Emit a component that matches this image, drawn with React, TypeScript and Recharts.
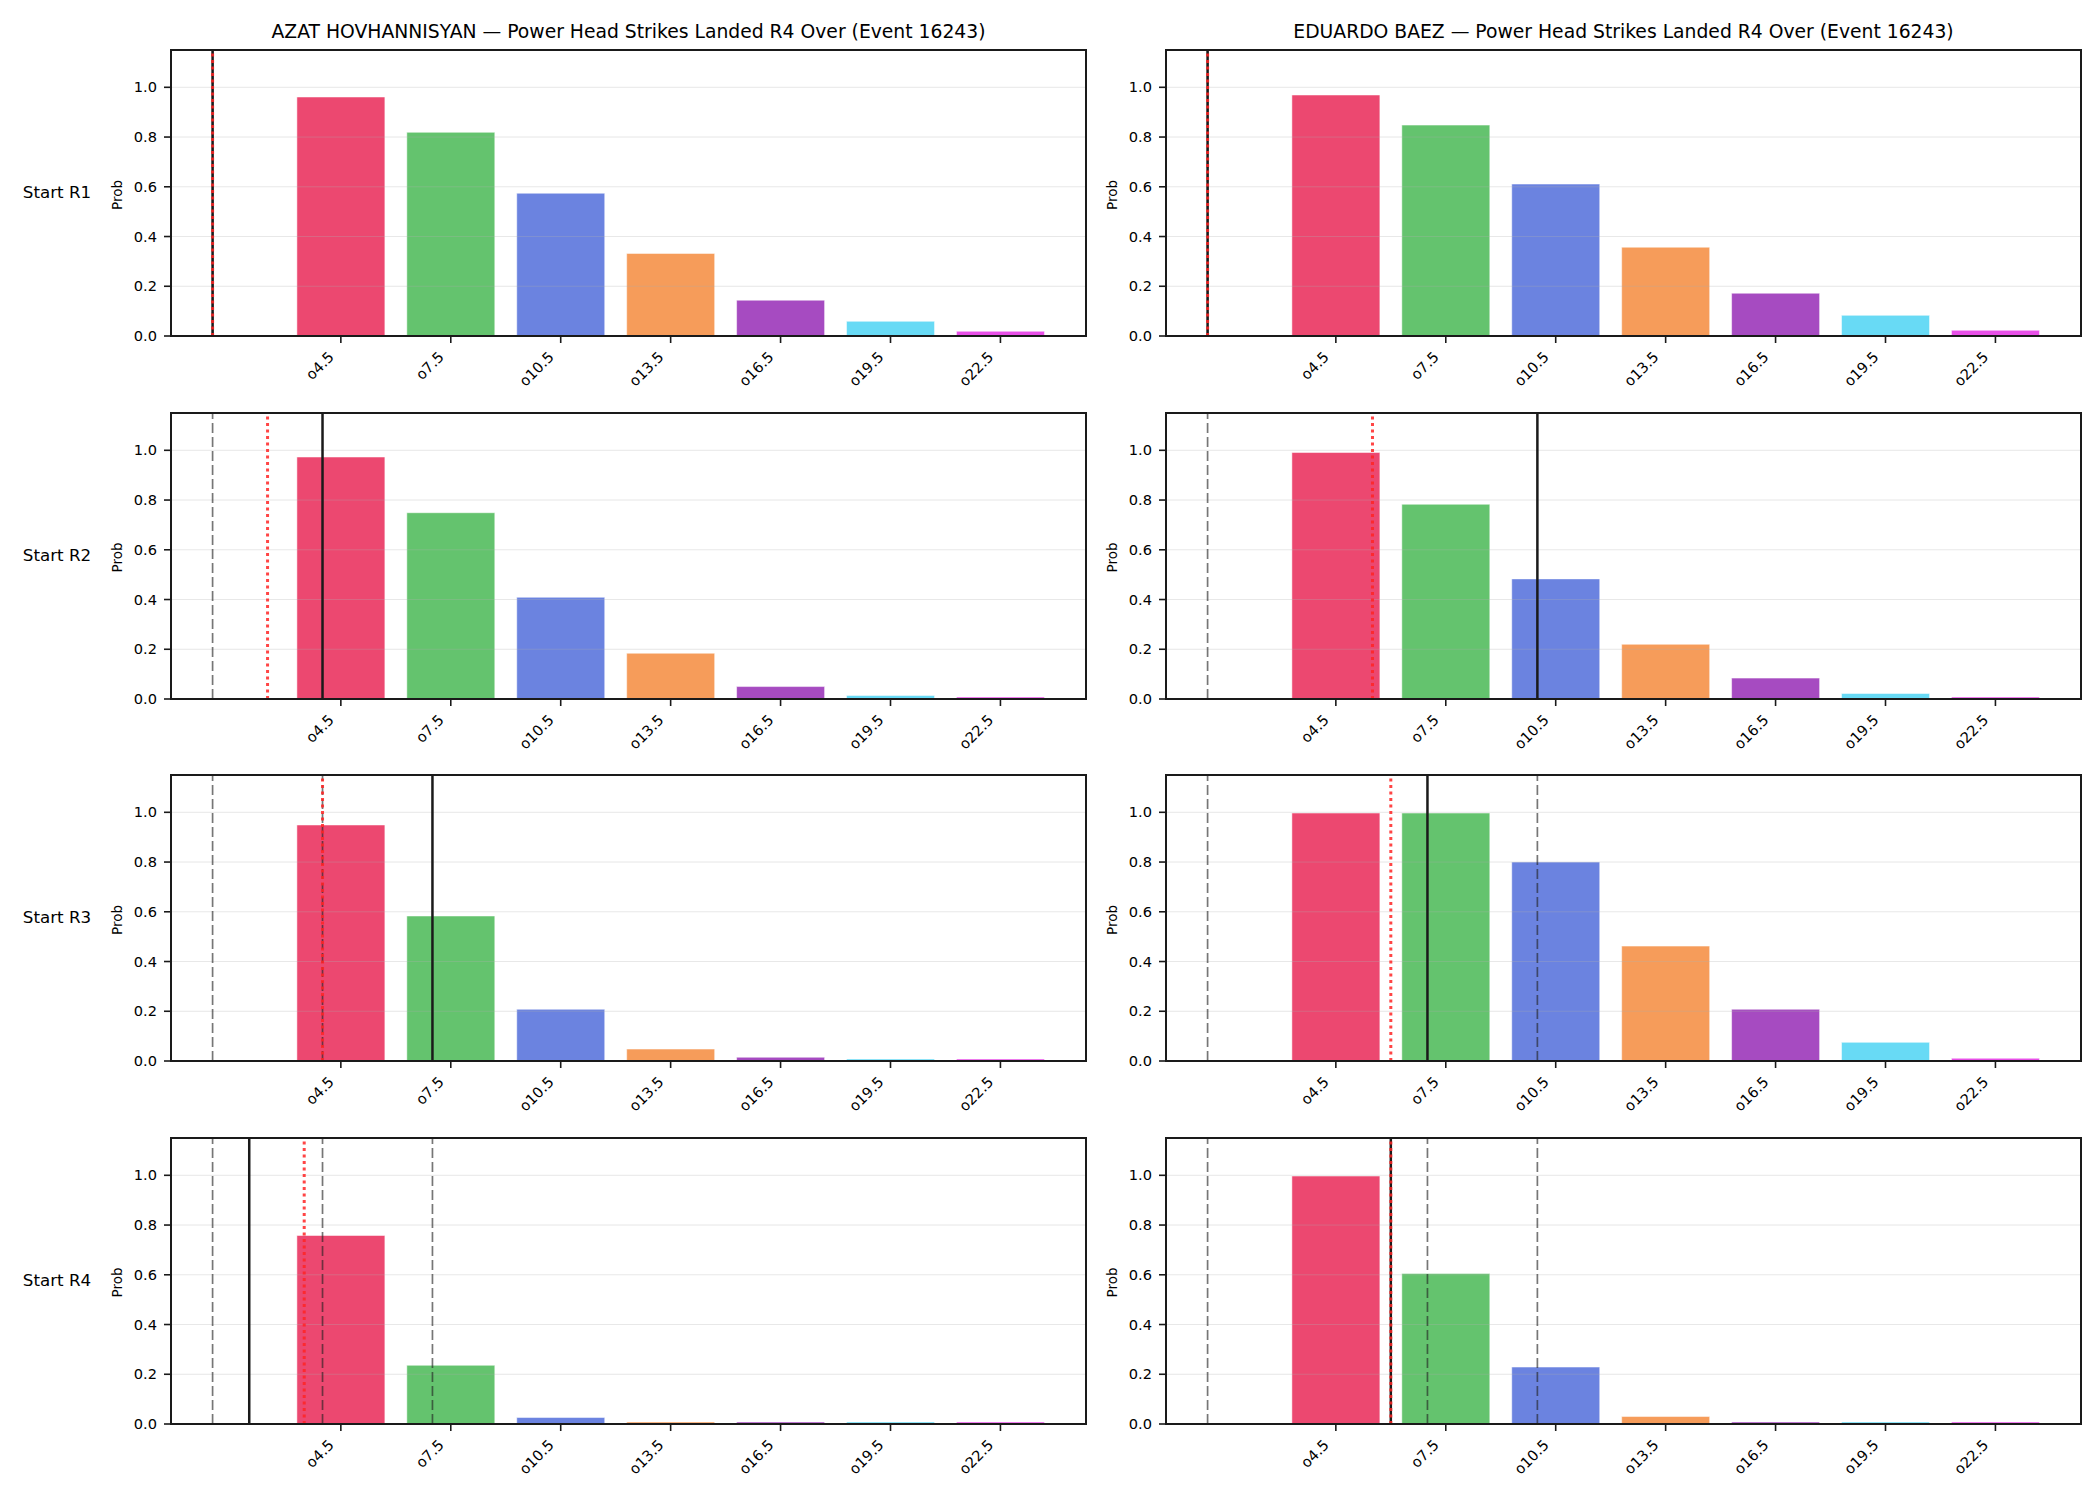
import { BarChart, Bar, Cell, XAxis, YAxis, CartesianGrid, ReferenceLine, ReferenceArea } from 'recharts';

// Over lines (bar positions on the numeric x axis) and their labels
const CAT_X = [4.5, 7.5, 10.5, 13.5, 16.5, 19.5, 22.5];
const CAT_LABELS = ['o4.5', 'o7.5', 'o10.5', 'o13.5', 'o16.5', 'o19.5', 'o22.5'];
const BAR_COLORS = ['#EC4870', '#64C36E', '#6B83E0', '#F69C5A', '#A64BC1', '#68DAF5', '#E850E8'];
const Y_TICKS = [0, 0.2, 0.4, 0.6, 0.8, 1.0];
const ROW_LABELS = ['Start R1', 'Start R2', 'Start R3', 'Start R4'];

// AZAT HOVHANNISYAN
const AZAT_R1 = [0.961, 0.819, 0.574, 0.332, 0.144, 0.059, 0.019];
const AZAT_R2 = [0.973, 0.749, 0.409, 0.184, 0.050, 0.014, 0.007];
const AZAT_R3 = [0.949, 0.583, 0.208, 0.048, 0.015, 0.007, 0.007];
const AZAT_R4 = [0.758, 0.236, 0.026, 0.005, 0.005, 0.004, 0.004];
const AZAT_DASHED = [[1], [1], [1, 4], [1, 4, 7]];
const AZAT_SOLID = [1, 4, 7, 2];
const AZAT_DOTTED = [1, 2.5, 4, 3.5];

// EDUARDO BAEZ
const BAEZ_R1 = [0.969, 0.848, 0.611, 0.357, 0.172, 0.083, 0.023];
const BAEZ_R2 = [0.991, 0.783, 0.483, 0.220, 0.084, 0.022, 0.007];
const BAEZ_R3 = [0.997, 0.997, 0.800, 0.462, 0.208, 0.075, 0.011];
const BAEZ_R4 = [0.997, 0.605, 0.229, 0.030, 0.006, 0.004, 0.004];
const BAEZ_DASHED = [[1], [1], [1, 10], [1, 7, 10]];
const BAEZ_SOLID = [1, 10, 7, 6];
const BAEZ_DOTTED = [1, 5.5, 6, 6];

const FIGHTERS = [
  {
    title: 'AZAT HOVHANNISYAN — Power Head Strikes Landed R4 Over (Event 16243)',
    rounds: [AZAT_R1, AZAT_R2, AZAT_R3, AZAT_R4],
    dashed: AZAT_DASHED, solid: AZAT_SOLID, dotted: AZAT_DOTTED,
  },
  {
    title: 'EDUARDO BAEZ — Power Head Strikes Landed R4 Over (Event 16243)',
    rounds: [BAEZ_R1, BAEZ_R2, BAEZ_R3, BAEZ_R4],
    dashed: BAEZ_DASHED, solid: BAEZ_SOLID, dotted: BAEZ_DOTTED,
  },
];

// layout (px)
const COL_LEFT = [171, 1166];
const ROW_TOP = [50, 412.5, 775, 1137.5];
const PLOT_W = 915;
const PLOT_H = 286;
const Y_AXIS_W = 70;
const X_AXIS_H = 70;
const PAD = 5;
const X_DOMAIN = [-0.135, 24.835];
const Y_MAX = 1.15;
const FONT = '"DejaVu Sans", sans-serif';
const INK = '#1a1a1a';

const XTick = (props: any) => {
  const { x, y, payload } = props;
  const i = CAT_X.indexOf(payload.value);
  const bx = x - 6;
  const by = y + 13;
  return (
    <text x={bx} y={by} transform={`rotate(-45, ${bx}, ${by})`} textAnchor="end"
      fontFamily={FONT} fontSize={14.6} fill="#000">
      {CAT_LABELS[i]}
    </text>
  );
};

function Panel({ probs, dashed, solid, dotted }: any) {
  const data = CAT_X.map((x, i) => ({ x, p: probs[i] }));
  return (
    <BarChart width={PLOT_W + Y_AXIS_W + PAD} height={PLOT_H + PAD + X_AXIS_H} data={data}
      margin={{ top: PAD, right: PAD, left: 0, bottom: 0 }}>
      <XAxis dataKey="x" type="number" domain={X_DOMAIN} allowDataOverflow ticks={CAT_X}
        interval={0} height={X_AXIS_H} tick={<XTick />} tickSize={7}
        tickLine={{ stroke: INK, strokeWidth: 1.6 }} axisLine={{ stroke: INK, strokeWidth: 2 }} />
      <YAxis type="number" domain={[0, Y_MAX]} ticks={Y_TICKS} width={Y_AXIS_W} tickSize={7} tickMargin={7}
        tickFormatter={(v: number) => v.toFixed(1)}
        tick={{ fontFamily: FONT, fontSize: 14.6, fill: '#000' }}
        tickLine={{ stroke: INK, strokeWidth: 1.6 }} axisLine={{ stroke: INK, strokeWidth: 2 }} />
      <Bar dataKey="p" barSize={88} stroke="#ffffff" strokeWidth={0.5} minPointSize={2}
        isAnimationActive={false}>
        {data.map((_, i) => <Cell key={i} fill={BAR_COLORS[i]} />)}
      </Bar>
      <CartesianGrid vertical={false} stroke="#b0b0b0" strokeOpacity={0.3} zIndex={350} />
      {dashed.map((v: number, i: number) => (
        <ReferenceLine key={'d' + i} x={v} stroke="#222" strokeOpacity={0.62} strokeWidth={1.7}
          strokeDasharray="10 4" zIndex={450} />
      ))}
      <ReferenceLine x={solid} stroke="#1a1a1a" strokeWidth={2.5} zIndex={460} />
      <ReferenceLine x={dotted} stroke="#ff2424" strokeOpacity={0.85} strokeWidth={3}
        strokeDasharray="3 3.5" zIndex={470} />
      {/* axes frame (top and right spines) */}
      <ReferenceArea x1={X_DOMAIN[0]} x2={X_DOMAIN[1]} y1={0} y2={Y_MAX} fill="none" fillOpacity={0}
        stroke={INK} strokeWidth={2} ifOverflow="visible" zIndex={480} />
    </BarChart>
  );
}

export default function App() {
  return (
    <div style={{ position: 'absolute', left: 0, top: 0, width: 2100, height: 1500, background: '#fff' }}>
      <svg width={2100} height={1500} style={{ position: 'absolute', left: 0, top: 0 }}>
        {FIGHTERS.map((f, c) => (
          <text key={'t' + c} x={COL_LEFT[c] + PLOT_W / 2} y={37.5} textAnchor="middle"
            fontFamily={FONT} fontSize={18.75} fill="#000">{f.title}</text>
        ))}
        {ROW_LABELS.map((lab, r) => (
          <text key={'s' + r} x={57} y={ROW_TOP[r] + PLOT_H / 2 + 5} textAnchor="middle"
            fontFamily={FONT} fontSize={16.7} fill="#000">{lab}</text>
        ))}
        {ROW_TOP.map((top, r) => COL_LEFT.map((left, c) => {
          const px = left - 49;
          const py = top + PLOT_H / 2 + 2;
          return (
            <text key={'p' + r + c} x={px} y={py} transform={`rotate(-90, ${px}, ${py})`}
              textAnchor="middle" fontFamily={FONT} fontSize={13.5} fill="#000">Prob</text>
          );
        }))}
      </svg>
      {FIGHTERS.map((f, c) => f.rounds.map((probs, r) => (
        <div key={c + '-' + r} style={{ position: 'absolute', left: COL_LEFT[c] - Y_AXIS_W, top: ROW_TOP[r] - PAD }}>
          <Panel probs={probs} dashed={f.dashed[r]} solid={f.solid[r]} dotted={f.dotted[r]} />
        </div>
      )))}
    </div>
  );
}
